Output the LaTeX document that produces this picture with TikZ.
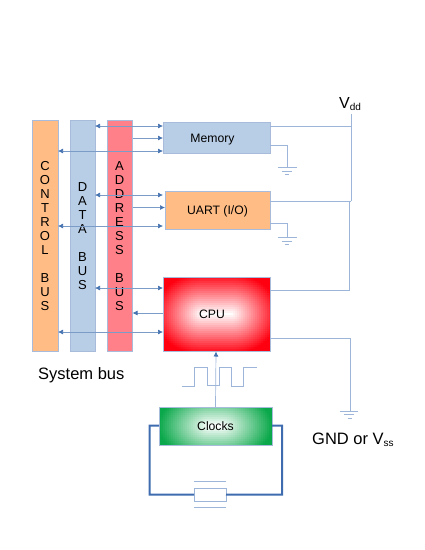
\documentclass[tikz,border=0pt]{standalone}
\usepackage{fontspec}
\setmainfont{Liberation Sans}
\usetikzlibrary{arrows.meta}
\definecolor{lineblue}{HTML}{9DB5D8}
\definecolor{arrowblue}{HTML}{4472B0}
\definecolor{thickblue}{HTML}{3E6CAF}
\definecolor{busorange}{HTML}{FFBD85}
\definecolor{busblue}{HTML}{B8CDE6}
\definecolor{busred}{HTML}{FF8088}
\definecolor{edgeblue}{HTML}{A9BBDA}
\definecolor{cpured}{HTML}{FF0010}
\definecolor{clockgreen}{HTML}{0AA84A}
\tikzset{
  barnode/.style={draw=edgeblue,line width=0.7pt,inner sep=0pt,outer sep=0pt,minimum height=231pt},
  boxnode/.style={draw=edgeblue,line width=0.9pt,inner sep=0pt,outer sep=0pt},
  wire/.style={draw=lineblue,line width=0.7pt},
  both/.style={draw=arrowblue!70,line width=0.7pt,{Latex[length=5pt,width=5pt,color=arrowblue]}-{Latex[length=5pt,width=5pt,color=arrowblue]}},
  onearrow/.style={draw=arrowblue!70,line width=0.7pt,-{Latex[length=5pt,width=5pt,color=arrowblue]}},
  thick wire/.style={draw=thickblue,line width=2pt},
  vtext/.style={align=center,font=\fontsize{13}{14}\selectfont,inner sep=0pt},
  boxtext/.style={inner sep=0pt,font=\fontsize{12.2}{14}\selectfont},
  bigtext/.style={inner sep=0pt,anchor=base west,font=\fontsize{16.5}{18}\selectfont},
}
% x1 y1 cols rows halfw halfh band vweight gweight (cells 2pt); colour is shadecol
\newcommand{\gridshade}[9]{%
  \foreach \i in {0,...,\numexpr#3-1\relax}{
    \foreach \j in {0,...,\numexpr#4-1\relax}{
      \pgfmathsetmacro{\uu}{abs(\i*2+1-#5)/#5}
      \pgfmathsetmacro{\vv}{abs(\j*2+1-#6)/#6}
      \pgfmathsetmacro{\gg}{#9*max(0,(\uu-#7)/(1-#7))}
      \pgfmathsetmacro{\pc}{100*min(1,sqrt((#8*\vv)*(#8*\vv)+\gg*\gg))}
      \fill[shadecol!\pc!white] (#1+\i*2,#2+\j*2) rectangle +(2.4,2.4);
    }
  }
}
\begin{document}
\begin{tikzpicture}[x=1pt,y=-1pt]
\useasboundingbox (0,0) rectangle (425,550);
% buses
\node[barnode,fill=busorange,minimum width=26pt] (control) at (45,235.5) {};
\node[barnode,fill=busblue,minimum width=25pt] (data) at (82.5,235.5) {};
\node[barnode,fill=busred,minimum width=25.5pt] (address) at (119.75,235.5) {};
% boxes
\node[boxnode,fill=busblue,minimum width=107pt,minimum height=31pt] (memory) at (216.5,137.5) {};
\node[boxnode,fill=busorange,minimum width=105pt,minimum height=38pt] (uart) at (217.5,210) {};
\colorlet{shadecol}{cpured}
\gridshade{163}{277}{54}{37}{53.5}{37}{0.28}{0.93}{0.82}
\colorlet{shadecol}{clockgreen}
\gridshade{159}{407}{57}{19}{56.5}{19}{0.1}{0.55}{1}
\node[draw=edgeblue,line width=0.9pt,minimum width=107pt,minimum height=74pt,inner sep=0pt,outer sep=0pt] (cpu) at (216.5,314) {};
\node[draw=edgeblue,line width=0.9pt,minimum width=113pt,minimum height=38pt,inner sep=0pt,outer sep=0pt] (clocks) at (215.5,426) {};
% labels
\node[vtext] (controltext) at (45,236) {C\\O\\N\\T\\R\\O\\L\\[14pt]B\\U\\S};
\node[vtext] (datatext) at (82.5,236.5) {D\\A\\T\\A\\[14pt]B\\U\\S};
\node[vtext] (addresstext) at (119.5,236.5) {A\\D\\D\\R\\E\\S\\S\\[14pt]B\\U\\S};
\node[boxtext] (memorytext) at (212.5,139.5) {Memory};
\node[boxtext] (uarttext) at (217.5,211) {UART (I/O)};
\node[boxtext] (cputext) at (212,314.5) {CPU};
\node[boxtext] (clockstext) at (215.5,426) {Clocks};
\node[bigtext] (sysbus) at (38,379) {System bus};
\node[bigtext,font=\fontsize{16}{18}\selectfont] (vdd) at (339,108) {V\textsubscript{\fontsize{10}{11}\selectfont dd}};
\node[bigtext] (gnd) at (312,444) {GND or V\textsubscript{\fontsize{10}{11}\selectfont ss}};
% bus connections
\foreach \ya in {126,195,288}{
  \draw[both] (95,\ya) -- (163,\ya);
}
\foreach \ya in {151,226,332}{
  \draw[both] (58,\ya) -- (163,\ya);
}
\draw[onearrow] (132.5,138) -- (163,138);
\draw[onearrow] (132.5,207.5) -- (165,207.5);
\draw[onearrow] (163,313) -- (132.5,313);
% supply
\coordinate (vtop) at (351,114);
\coordinate (vmid) at (351,201);
\coordinate (vlow) at (349.5,290);
\draw[wire] (vtop) -- (vmid);
\draw[wire] (vmid) -- (349.5,201) -- (vlow);
\draw[wire] (270,126) -- (351,126);
\draw[wire] (270,201) -- (vmid);
\draw[wire] (270,290) -- (vlow);
% grounds
\draw[wire] (270,145) -- (287,145) -- (287,167);
\draw[wire] (278,167) -- (297,167) (282,171) -- (292,171) (285,174.5) -- (289,174.5);
\draw[wire] (270,223) -- (287,223) -- (287,237);
\draw[wire] (278,237) -- (297,237) (282,241) -- (292,241) (285,244.5) -- (289,244.5);
\draw[wire] (270,338) -- (350,338) -- (350,411);
\draw[wire] (339.5,411) -- (358,411) (344,414.5) -- (354,414.5) (347.5,418) -- (351.5,418);
% clock
\draw[wire] (182,386) -- (194,386) -- (194,367) -- (207.7,367) -- (207.7,385.5) -- (219,385.5) -- (219,367) -- (231.7,367) -- (231.7,386) -- (243,386) -- (243,367) -- (256.7,367);
\draw[onearrow,draw=lineblue] (clocks.north) -- (216,351.5);
% crystal
\node[draw=lineblue,line width=0.9pt,fill=white,minimum width=32pt,minimum height=13pt,inner sep=0pt,outer sep=0pt] (xtal) at (210,494.5) {};
\draw[thick wire] (clocks.west |- 0,425.5) -- (149.5,425.5) -- (149.5,494.7) -- (xtal.west);
\draw[thick wire] (clocks.east |- 0,425.5) -- (282,425.5) -- (282,494.7) -- (xtal.east);
\draw[wire] (xtal.west |- 0,481) -- (xtal.east |- 0,481);
\draw[wire] (xtal.west |- 0,507) -- (xtal.east |- 0,507);
\end{tikzpicture}
\end{document}
